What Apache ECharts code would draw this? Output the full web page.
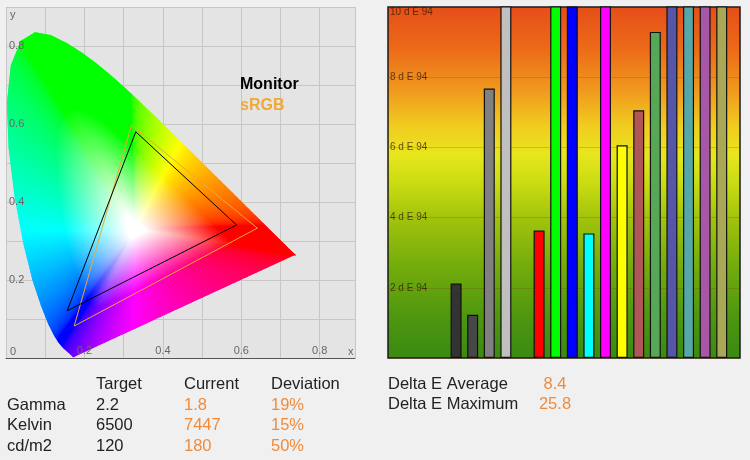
<!DOCTYPE html>
<html>
<head>
<meta charset="utf-8">
<script src="https://cdn.jsdelivr.net/npm/echarts@6/dist/echarts.min.js"></script>
<style>
  html, body { margin: 0; padding: 0; background: #f0f0f0; }
  #chart { width: 750px; height: 460px; }
</style>
</head>
<body>
<div id="chart"></div>
<script>
// CIE 1931 spectral locus (380-700 nm, 5 nm steps)
var locusX = [0.1741, 0.1740, 0.1738, 0.1736, 0.1733, 0.1730, 0.1726, 0.1721, 0.1714, 0.1703,
  0.1689, 0.1669, 0.1644, 0.1611, 0.1566, 0.1510, 0.1440, 0.1355, 0.1241, 0.1096,
  0.0913, 0.0687, 0.0454, 0.0235, 0.0082, 0.0039, 0.0139, 0.0389, 0.0743, 0.1142,
  0.1547, 0.1929, 0.2296, 0.2658, 0.3016, 0.3373, 0.3731, 0.4087, 0.4441, 0.4788,
  0.5125, 0.5448, 0.5752, 0.6029, 0.6270, 0.6482, 0.6658, 0.6801, 0.6915, 0.7006,
  0.7079, 0.7140, 0.7190, 0.7230, 0.7260, 0.7283, 0.7300, 0.7311, 0.7320, 0.7327,
  0.7334, 0.7340, 0.7344, 0.7346, 0.7347];
var locusY = [0.0050, 0.0050, 0.0049, 0.0049, 0.0048, 0.0048, 0.0048, 0.0048, 0.0051, 0.0058,
  0.0069, 0.0086, 0.0109, 0.0138, 0.0177, 0.0227, 0.0297, 0.0399, 0.0578, 0.0868,
  0.1327, 0.2007, 0.2950, 0.4127, 0.5384, 0.6548, 0.7502, 0.8120, 0.8338, 0.8262,
  0.8059, 0.7816, 0.7543, 0.7243, 0.6923, 0.6589, 0.6245, 0.5896, 0.5547, 0.5202,
  0.4866, 0.4544, 0.4242, 0.3965, 0.3725, 0.3514, 0.3340, 0.3197, 0.3083, 0.2993,
  0.2920, 0.2859, 0.2809, 0.2770, 0.2740, 0.2717, 0.2700, 0.2689, 0.2680, 0.2673,
  0.2666, 0.2660, 0.2656, 0.2654, 0.2653];
var whitePoint = [0.33, 0.33];

// 色域三角形
var monitorX = [0.588, 0.331, 0.156];
var monitorY = [0.341, 0.580, 0.121];
var srgbX = [0.641, 0.320, 0.174];
var srgbY = [0.333, 0.597, 0.082];

// Delta E 柱状图
var patchPos = [1, 2, 3, 4, 6, 7, 8, 9, 10, 11, 12, 13, 14, 15, 16, 17];
var patchDeltaE = [2.12, 1.23, 7.68, 10.3, 3.63, 12.5, 25.8, 3.55, 11.6, 6.06, 7.06, 9.29, 10.2, 10.6, 10.4, 10.8];
var patchColors = ['#333333', '#474747', '#808080', '#c0c0c0', '#ff0000', '#00ff00', '#0000ff', '#00ffff',
  '#ff00ff', '#ffff00', '#b05656', '#56a856', '#5656a8', '#56a8a8', '#a856a8', '#a8a856'];
var deTicks = [2, 4, 6, 8, 10];

// 表格文字
var colHeaders = ['Target', 'Current', 'Deviation'];
var rowLabels = ['Gamma', 'Kelvin', 'cd/m2'];
var targetVals = ['2.2', '6500', '120'];
var currentVals = ['1.8', '7447', '180'];
var deviationVals = ['19%', '15%', '50%'];
var deltaLabels = ['Delta E Average', 'Delta E Maximum'];
var deltaVals = ['8.4', '25.8'];

var FONT = "'Liberation Sans', Arial, sans-serif";
var ORANGE = '#ef8b3c';

// xy 色度 -> sRGB 颜色
function xyToColor(x, y) {
    var X = x / y, Y = 1, Z = (1 - x - y) / y;
    var r = 3.2406 * X - 1.5372 * Y - 0.4986 * Z;
    var g = -0.9689 * X + 1.8758 * Y + 0.0415 * Z;
    var b = 0.0557 * X - 0.2040 * Y + 1.0570 * Z;
    r = Math.max(r, 0); g = Math.max(g, 0); b = Math.max(b, 0);
    var m = Math.max(r, g, b) || 1;
    var c = [r / m, g / m, b / m].map(function(v) {
        v = v <= 0.0031308 ? 12.92 * v : 1.055 * Math.pow(v, 1 / 2.4) - 0.055;
        return Math.round(255 * v);
    });
    return 'rgb(' + c.join(',') + ')';
}

function fanPiece(w, a, b, col) {
    var m = [(a[0] + b[0]) / 2, (a[1] + b[1]) / 2];
    var grad = new echarts.graphic.LinearGradient(w[0], w[1], m[0], m[1], [
        { offset: 0, color: '#ffffff' },
        { offset: 0.07, color: '#ffffff' },
        { offset: 0.62, color: col },
        { offset: 1, color: col }
    ], true);
    return {
        type: 'polygon',
        shape: { points: [w, a, b] },
        style: { fill: grad, stroke: grad, lineWidth: 1.2 }
    };
}

// 把一条边细分成小段（仅用于着色）
function pushEdge(children, w, pa, pb, xa, ya, xb, yb) {
    var len = Math.sqrt(Math.pow(pb[0] - pa[0], 2) + Math.pow(pb[1] - pa[1], 2));
    var k = Math.max(1, Math.ceil(len / 2));
    for (var s = 0; s < k; s++) {
        var t0 = s / k, t1 = (s + 1) / k, tm = (s + 0.5) / k;
        var a = [pa[0] + (pb[0] - pa[0]) * t0, pa[1] + (pb[1] - pa[1]) * t0];
        var b = [pa[0] + (pb[0] - pa[0]) * t1, pa[1] + (pb[1] - pa[1]) * t1];
        children.push(fanPiece(w, a, b, xyToColor(xa + (xb - xa) * tm, ya + (yb - ya) * tm)));
    }
}

function closed(xs, ys) {
    var out = xs.map(function(x, i) { return [x, ys[i]]; });
    out.push([xs[0], ys[0]]);
    return out;
}

function textEl(str, x, y, color, align, font) {
    return {
        type: 'text',
        x: x, y: y, z: 100,
        style: {
            text: str, fill: color, font: font || ('16.5px ' + FONT),
            textAlign: align || 'left', textVerticalAlign: 'middle'
        }
    };
}

function cieLabel(v) {
    var k = Math.round(v * 10);
    return (k > 0 && k % 2 === 0 && k < 9) ? (k / 10).toFixed(1) : '';
}

document.addEventListener('DOMContentLoaded', function() {
    var chart = echarts.init(document.getElementById('chart'));

    var graphics = [];
    var colX = [96, 184, 271];
    colHeaders.forEach(function(h, i) { graphics.push(textEl(h, colX[i], 384, '#222')); });
    rowLabels.forEach(function(r, i) {
        var y = 405 + i * 20.5;
        graphics.push(textEl(r, 7, y, '#222'));
        graphics.push(textEl(targetVals[i], colX[0], y, '#222'));
        graphics.push(textEl(currentVals[i], colX[1], y, ORANGE));
        graphics.push(textEl(deviationVals[i], colX[2], y, ORANGE));
    });
    deltaLabels.forEach(function(d, i) {
        var y = 384 + i * 20.5;
        graphics.push(textEl(d, 388, y, '#222'));
        graphics.push(textEl(deltaVals[i], 555, y, ORANGE, 'center'));
    });
    // 图例
    graphics.push(textEl('Monitor', 240, 85, '#000', 'left', 'bold 16px ' + FONT));
    graphics.push(textEl('sRGB', 240, 106, '#f0a838', 'left', 'bold 16px ' + FONT));
    // 轴名
    graphics.push(textEl('y', 10, 15, '#666', 'left', '11px ' + FONT));
    graphics.push(textEl('x', 348, 352, '#666', 'left', '11px ' + FONT));
    graphics.push(textEl('0', 10, 352, '#666', 'left', '11px ' + FONT));

    var option = {
        backgroundColor: '#f0f0f0',
        animation: false,
        grid: [
            { left: 6, top: 7, width: 349, height: 351, show: true, backgroundColor: '#e4e4e4', borderWidth: 0 },
            {
                left: 388, top: 7, width: 352, height: 351, show: true, borderColor: '#1a1a1a', borderWidth: 1.5,
                backgroundColor: new echarts.graphic.LinearGradient(0, 0, 0, 1, [
                    { offset: 0, color: '#e54e18' },
                    { offset: 0.12, color: '#ec6a18' },
                    { offset: 0.24, color: '#f09a1e' },
                    { offset: 0.34, color: '#f0cc20' },
                    { offset: 0.42, color: '#e8e61c' },
                    { offset: 0.5, color: '#cadc12' },
                    { offset: 0.6, color: '#a2c40c' },
                    { offset: 0.75, color: '#70aa0c' },
                    { offset: 0.9, color: '#4a9410' },
                    { offset: 1, color: '#3a8a12' }
                ])
            }
        ],
        xAxis: [
            {
                type: 'value', gridIndex: 0, position: 'bottom', min: 0, max: 0.89, interval: 0.1,
                axisLine: { show: true, lineStyle: { color: '#555', width: 1 } },
                axisTick: { show: false }, axisLabel: { show: false },
                splitLine: { show: true, lineStyle: { color: '#c6c6c6' } }
            },
            { type: 'value', gridIndex: 1, min: -3.1, max: 18.1, show: false },
            {
                // 只画刻度文字，压在色度图上面
                type: 'value', gridIndex: 0, position: 'bottom', min: 0, max: 0.89, interval: 0.1, z: 10,
                axisLine: { show: false }, axisTick: { show: false }, splitLine: { show: false },
                axisLabel: { inside: true, margin: 2, color: '#666', fontSize: 11, fontFamily: FONT, formatter: cieLabel }
            }
        ],
        yAxis: [
            {
                type: 'value', gridIndex: 0, position: 'left', min: 0, max: 0.9, interval: 0.1,
                axisLine: { show: false }, axisTick: { show: false }, axisLabel: { show: false },
                splitLine: { show: true, lineStyle: { color: '#c6c6c6' } }
            },
            {
                type: 'value', gridIndex: 1, min: 0, max: 10, interval: 2,
                axisLine: { show: false }, axisTick: { show: false },
                axisLabel: {
                    inside: true, margin: 2, color: 'rgba(50,25,0,0.75)', fontSize: 10, fontFamily: FONT,
                    verticalAlignMaxLabel: 'top',
                    formatter: function(v) { return deTicks.indexOf(v) >= 0 ? v + ' d E 94' : ''; }
                },
                splitLine: { show: true, lineStyle: { color: 'rgba(120,60,0,0.22)' } }
            },
            {
                type: 'value', gridIndex: 0, position: 'left', min: 0, max: 0.9, interval: 0.1, z: 10,
                axisLine: { show: false }, axisTick: { show: false }, splitLine: { show: false },
                axisLabel: { inside: true, margin: 3, color: '#666', fontSize: 11, fontFamily: FONT, formatter: cieLabel }
            }
        ],
        graphic: graphics,
        series: [
            {
                // 色度图马蹄形
                type: 'custom',
                xAxisIndex: 0, yAxisIndex: 0,
                data: [[0, 0]],
                silent: true,
                renderItem: function(params, api) {
                    var w = api.coord(whitePoint);
                    var pts = locusX.map(function(x, i) { return api.coord([x, locusY[i]]); });
                    var children = [];
                    for (var i = 0; i < pts.length - 1; i++) {
                        pushEdge(children, w, pts[i], pts[i + 1], locusX[i], locusY[i], locusX[i + 1], locusY[i + 1]);
                    }
                    // 紫线：红端回到紫端
                    var n = pts.length - 1;
                    pushEdge(children, w, pts[n], pts[0], locusX[n], locusY[n], locusX[0], locusY[0]);
                    return { type: 'group', children: children };
                }
            },
            {
                name: 'sRGB', type: 'line', xAxisIndex: 0, yAxisIndex: 0,
                data: closed(srgbX, srgbY), showSymbol: false, silent: true,
                lineStyle: { color: '#f0a838', width: 1 }
            },
            {
                name: 'Monitor', type: 'line', xAxisIndex: 0, yAxisIndex: 0,
                data: closed(monitorX, monitorY), showSymbol: false, silent: true,
                lineStyle: { color: '#000', width: 1 }
            },
            {
                name: 'Delta E', type: 'bar', xAxisIndex: 1, yAxisIndex: 1,
                barWidth: 11, clip: true,
                data: patchPos.map(function(p, i) {
                    return { value: [p, patchDeltaE[i]], itemStyle: { color: patchColors[i] } };
                }),
                itemStyle: { borderColor: '#111', borderWidth: 1.2 }
            }
        ]
    };

    chart.setOption(option);
});
</script>
</body>
</html>
